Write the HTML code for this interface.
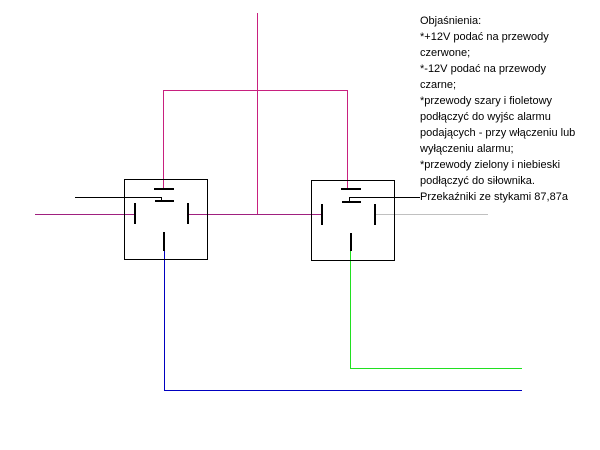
<!DOCTYPE html><html><head><style>body{margin:0;background:#fff}svg{display:block}
.t{font-family:"Liberation Sans",sans-serif;font-size:11px;fill:#000}</style></head><body>
<svg width="600" height="450" xmlns="http://www.w3.org/2000/svg" shape-rendering="crispEdges">
<g fill="none" stroke-width="1">
<path d="M257.5 13V214M163.5 189V90.5H347.5V189" stroke="#c8207f"/>
<path d="M35 214.5H135M188 214.5H322" stroke="#a0207f"/>
<path d="M375 214.5H488" stroke="#c0c0c0"/>
<path d="M75 197.5H161.5V201M349.5 201V197.5H420" stroke="#000"/>
<path d="M164.5 250V390.5H522" stroke="#0000c0"/>
<path d="M350.5 250V368.5H522" stroke="#20e020"/>
<rect x="124.5" y="179.5" width="83" height="80" stroke="#000"/>
<rect x="311.5" y="180.5" width="83" height="80" stroke="#000"/>
</g>
<g fill="#000">
<rect x="154" y="188" width="20" height="2"/><rect x="155" y="200" width="19" height="2"/>
<rect x="134" y="203" width="2" height="21"/><rect x="187" y="203" width="2" height="21"/>
<rect x="163" y="232" width="2" height="19"/>
<rect x="341" y="188" width="20" height="2"/><rect x="342" y="201" width="19" height="2"/>
<rect x="321" y="204" width="2" height="21"/><rect x="374" y="204" width="2" height="21"/>
<rect x="350" y="233" width="2" height="18"/>
</g>
<g class="t">
<text x="420" y="24">Objaśnienia:</text>
<text x="420" y="40">*+12V podać na przewody</text>
<text x="420" y="56">czerwone;</text>
<text x="420" y="72">*-12V podać na przewody</text>
<text x="420" y="88">czarne;</text>
<text x="420" y="104">*przewody szary i fioletowy</text>
<text x="420" y="120">podłączyć do wyjśc alarmu</text>
<text x="420" y="136">podających - przy włączeniu lub</text>
<text x="420" y="152">wyłączeniu alarmu;</text>
<text x="420" y="168">*przewody zielony i niebieski</text>
<text x="420" y="184">podłączyć do siłownika.</text>
<text x="420" y="200">Przekaźniki ze stykami 87,87a</text>
</g>
</svg></body></html>
